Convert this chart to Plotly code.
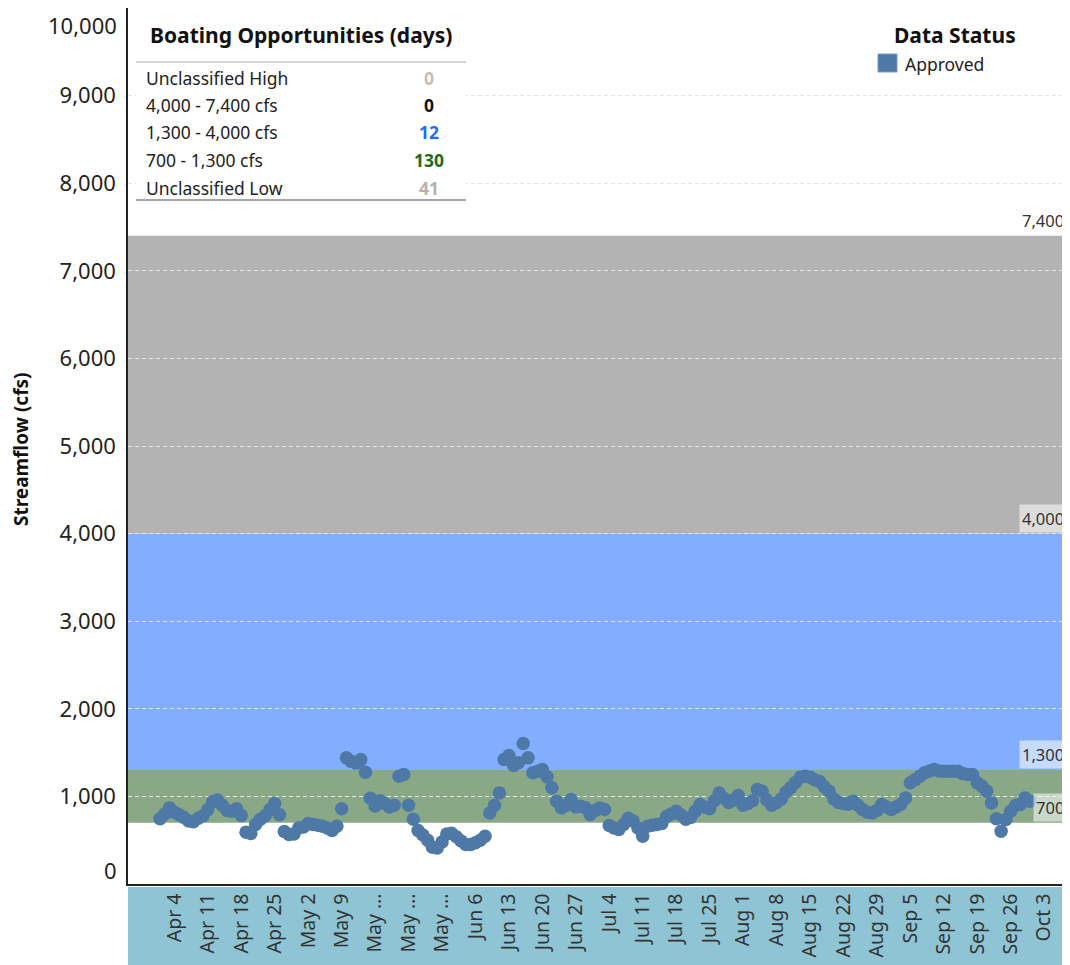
import pandas as pd
import plotly.graph_objects as go

# ---------------- data ----------------
start_date = "2021-04-01"
apr_flow = [744, 800, 869, 820, 790, 760, 720, 710, 750, 780, 850, 940, 960, 900, 840,
            830, 860, 782, 592, 577, 679, 740, 780, 850, 920, 790, 600, 565, 570, 640]
may_flow = [650, 690, 680, 670, 660, 640, 610, 660, 860, 1440, 1400, 1380, 1420, 1276, 980,
            890, 950, 920, 880, 900, 1230, 1250, 900, 740, 610, 560, 500, 420, 410, 480, 570]
jun_flow = [580, 540, 490, 450, 450, 470, 500, 545, 810, 900, 1040, 1421, 1467, 1352, 1383,
            1604, 1440, 1269, 1288, 1307, 1223, 1098, 945, 869, 900, 964, 880, 888, 870, 793]
jul_flow = [840, 869, 850, 668, 640, 622, 680, 750, 720, 640, 546, 660, 670, 680, 690,
            770, 800, 830, 790, 740, 760, 830, 907, 880, 860, 950, 1040, 980, 930, 960, 1010]
aug_flow = [900, 920, 950, 1079, 1060, 960, 900, 930, 970, 1050, 1100, 1160, 1220, 1231, 1220,
            1190, 1170, 1110, 1060, 970, 930, 920, 910, 945, 900, 850, 820, 812, 840, 907, 880]
sep_flow = [850, 880, 910, 983, 1155, 1190, 1230, 1269, 1290, 1307, 1290, 1288, 1288, 1288, 1288,
            1260, 1250, 1250, 1155, 1117, 1060, 926, 744, 603, 736, 831, 896, 907, 983, 945]

tick_dates = ["2021-04-04", "2021-04-11", "2021-04-18", "2021-04-25", "2021-05-02", "2021-05-09",
              "2021-05-16", "2021-05-23", "2021-05-30", "2021-06-06", "2021-06-13", "2021-06-20",
              "2021-06-27", "2021-07-04", "2021-07-11", "2021-07-18", "2021-07-25", "2021-08-01",
              "2021-08-08", "2021-08-15", "2021-08-22", "2021-08-29", "2021-09-05", "2021-09-12",
              "2021-09-19", "2021-09-26", "2021-10-03"]
tick_labels = ["Apr 4", "Apr 11", "Apr 18", "Apr 25", "May 2", "May 9", "May …", "May …", "May …",
               "Jun 6", "Jun 13", "Jun 20", "Jun 27", "Jul 4", "Jul 11", "Jul 18", "Jul 25",
               "Aug 1", "Aug 8", "Aug 15", "Aug 22", "Aug 29", "Sep 5", "Sep 12", "Sep 19",
               "Sep 26", "Oct 3"]

y_ticks = [0, 1000, 2000, 3000, 4000, 5000, 6000, 7000, 8000, 9000, 10000]
y_tick_labels = ["", "1,000", "2,000", "3,000", "4,000", "5,000", "6,000", "7,000", "8,000", "9,000", ""]

band_low = [700, 1300, 4000]
band_high = [1300, 4000, 7400]
band_colors = ["#88a886", "#83adff", "#b3b3b3"]
threshold_values = [700, 1300, 4000, 7400]
threshold_labels = ["700", "1,300", "4,000", "7,400"]

table_rows = ["Unclassified High", "4,000 - 7,400 cfs", "1,300 - 4,000 cfs",
              "700 - 1,300 cfs", "Unclassified Low"]
table_days = [0, 0, 12, 130, 41]
table_colors = ["#c4bdb8", "#111111", "#1f6cff", "#1c6b1c", "#b9b0a8"]

# ---------------- figure ----------------
flow = apr_flow + may_flow + jun_flow + jul_flow + aug_flow + sep_flow
dates = pd.date_range(start_date, periods=len(flow), freq="D")

OFF = 8                      # page body margin of the browser
W, H = 1070 - OFF, 965 - OFF
ML, MT = 128 - OFF, 8 - OFF
PLOT_BOTTOM = 884 - OFF
MB = H - PLOT_BOTTOM
MR = 0
PW, PH = W - ML - MR, PLOT_BOTTOM - MT


def px(x):
    """screen x pixel -> paper x"""
    return (x - OFF - ML) / PW


def py(y):
    """screen y pixel -> paper y"""
    return (PLOT_BOTTOM - (y - OFF)) / PH


FONT = "'Noto Sans', 'DejaVu Sans', sans-serif"
POINT = "#4e79a7"

fig = go.Figure()
fig.add_trace(go.Scatter(
    x=dates, y=flow, mode="markers",
    marker=dict(size=13.5, color=POINT, line=dict(width=0)),
    showlegend=False, hoverinfo="x+y"))

shapes = []
for lo, hi, c in zip(band_low, band_high, band_colors):
    shapes.append(dict(type="rect", xref="paper", yref="y", x0=0, x1=1, y0=lo, y1=hi,
                       fillcolor=c, line=dict(width=0), layer="below"))

# x label header band
shapes.append(dict(type="rect", xref="paper", yref="paper", x0=0, x1=1,
                   y0=py(975), y1=py(887), fillcolor="#8ec4d3", line=dict(width=0), layer="below"))

# table background and rules
shapes.append(dict(type="rect", xref="paper", yref="paper", x0=px(136), x1=px(466),
                   y0=py(202), y1=py(10), fillcolor="white", line=dict(width=0), layer="above"))
shapes.append(dict(type="line", xref="paper", yref="paper", x0=px(136), x1=px(466),
                   y0=py(62), y1=py(62), line=dict(color="#b0b0b0", width=1.2), layer="above"))
shapes.append(dict(type="line", xref="paper", yref="paper", x0=px(136), x1=px(466),
                   y0=py(200), y1=py(200), line=dict(color="#8a8a8a", width=1.6), layer="above"))
# legend swatch
shapes.append(dict(type="rect", xref="paper", yref="paper", x0=px(878), x1=px(897),
                   y0=py(72), y1=py(54), fillcolor=POINT, line=dict(color="#7d9cc0", width=1),
                   layer="above"))

ann = []
# threshold labels
for v, t in zip(threshold_values, threshold_labels):
    ann.append(dict(x=1, xref="paper", y=v, yref="y", text=t, xanchor="right", yanchor="bottom",
                    showarrow=False, font=dict(family=FONT, size=16.5, color="#333333"),
                    bgcolor="rgba(255,255,255,0.55)" if v != 7400 else "rgba(0,0,0,0)",
                    borderpad=2, xshift=-3, yshift=1))

# end y tick labels (shifted inward as in the original)
ann.append(dict(x=px(119), xref="paper", y=py(25), yref="paper", text="10,000", xanchor="right",
                yanchor="middle", showarrow=False, font=dict(family=FONT, size=22, color="#222222")))
ann.append(dict(x=px(119), xref="paper", y=py(870), yref="paper", text="0", xanchor="right",
                yanchor="middle", showarrow=False, font=dict(family=FONT, size=22, color="#222222")))

# y axis title
ann.append(dict(x=px(21), xref="paper", y=py(449), yref="paper", text="<b>Streamflow (cfs)</b>",
                textangle=-90, xanchor="center", yanchor="middle", showarrow=False,
                font=dict(family=FONT, size=19, color="#111111")))

# table
ann.append(dict(x=px(301), xref="paper", y=py(35), yref="paper",
                text="<b>Boating Opportunities (days)</b>", xanchor="center", yanchor="middle",
                showarrow=False, font=dict(family=FONT, size=21, color="#111111")))
row_y = [78, 105, 132, 160, 188]
for ry, name, d, c in zip(row_y, table_rows, table_days, table_colors):
    ann.append(dict(x=px(144), xref="paper", y=py(ry), yref="paper", text=name, xanchor="left",
                    yanchor="middle", showarrow=False,
                    font=dict(family=FONT, size=17.5, color="#222222")))
    ann.append(dict(x=px(429), xref="paper", y=py(ry), yref="paper", text=f"<b>{d}</b>",
                    xanchor="center", yanchor="middle", showarrow=False,
                    font=dict(family=FONT, size=17.5, color=c)))

# legend
ann.append(dict(x=px(955), xref="paper", y=py(35), yref="paper", text="<b>Data Status</b>",
                xanchor="center", yanchor="middle", showarrow=False,
                font=dict(family=FONT, size=21, color="#111111")))
ann.append(dict(x=px(903), xref="paper", y=py(64), yref="paper", text="Approved",
                xanchor="left", yanchor="middle", showarrow=False,
                font=dict(family=FONT, size=17.5, color="#222222")))

fig.update_layout(
    width=W, height=H,
    margin=dict(l=ML, r=MR, t=MT, b=MB, pad=0),
    paper_bgcolor="white", plot_bgcolor="rgba(0,0,0,0)",
    shapes=shapes, annotations=ann,
    font=dict(family=FONT),
    showlegend=False,
)
fig.update_xaxes(
    range=["2021-03-25 07:00", "2021-10-08 10:00"],
    tickmode="array", tickvals=tick_dates, ticktext=tick_labels,
    tickangle=-90, tickfont=dict(family=FONT, size=19.5, color="#333333"),
    showgrid=False, zeroline=False, showline=True, linecolor="#222222", linewidth=1.5,
    ticks="", automargin=False, fixedrange=True,
)
fig.update_yaxes(
    range=[0, 10000], tickmode="array", tickvals=y_ticks, ticktext=y_tick_labels,
    tickfont=dict(family=FONT, size=22, color="#222222"),
    showgrid=True, gridcolor="#e4e4e4", gridwidth=1, griddash="4px,3px",
    zeroline=False, showline=True, linecolor="#222222", linewidth=1.5,
    ticks="", ticklabelstandoff=6, automargin=False, fixedrange=True,
)

fig.write_html("out.html")
